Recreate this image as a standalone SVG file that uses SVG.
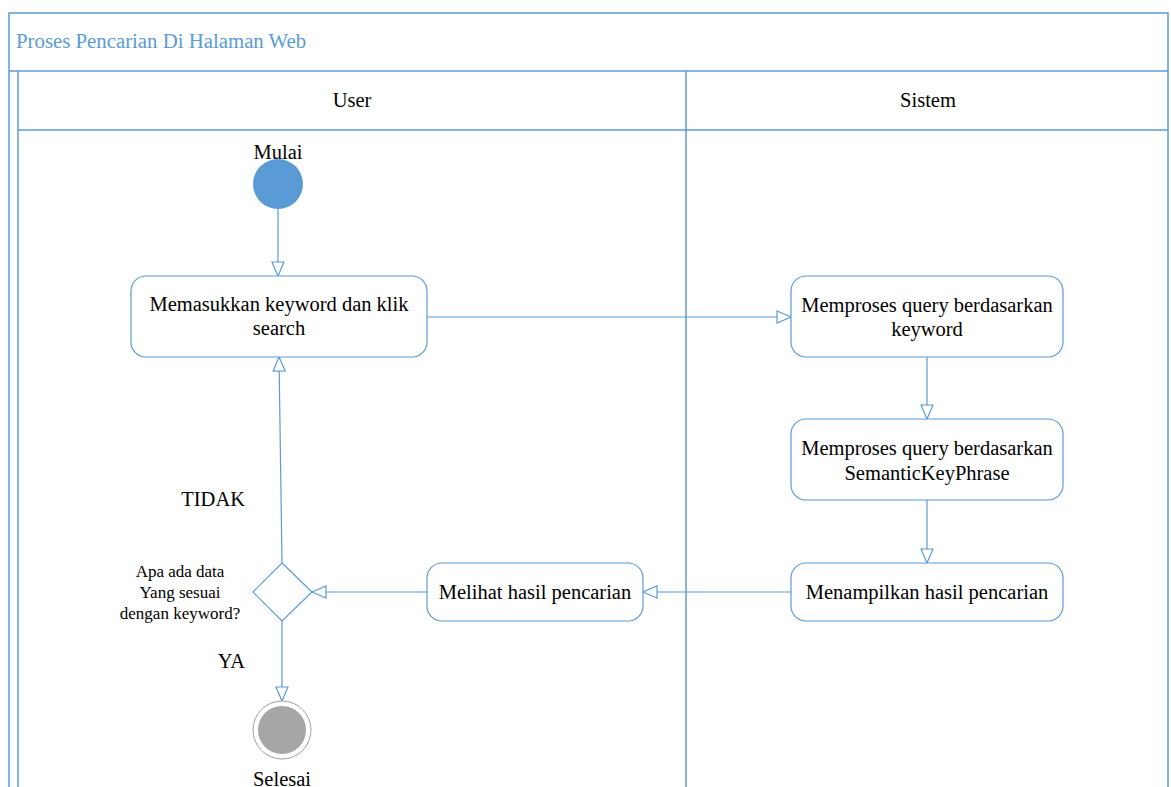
<svg xmlns="http://www.w3.org/2000/svg" width="1171" height="787" viewBox="0 0 1171 787">
<style>
.frame{fill:none;stroke:#5b9bd5;stroke-width:1.5}
.node{fill:#fff;stroke:#5b9bd5;stroke-width:1.2}
.conn{fill:none;stroke:#5b9bd5;stroke-width:1.2}
.t{font-family:'Liberation Serif','Times New Roman',serif;fill:#000;text-anchor:middle}
.t20{font-size:20.5px}
.t17{font-size:17px}
.title{font-family:'Liberation Serif','Times New Roman',serif;font-size:20.8px;fill:#5b9bd5}
</style>
<defs>
<marker id="open" markerUnits="userSpaceOnUse" markerWidth="18" markerHeight="16" refX="15" refY="7" orient="auto">
<path d="M1,1 L15,7 L1,13 Z" fill="#fff" stroke="#5b9bd5" stroke-width="1.2"/>
</marker>
</defs>
<rect x="0" y="0" width="1171" height="787" fill="#fff"/>
<g id="pool">
<rect class="frame" x="9" y="13" width="1159" height="790"/>
<line class="frame" x1="9" y1="71" x2="1168" y2="71"/>
<line class="frame" x1="18" y1="71" x2="18" y2="787"/>
<line class="frame" x1="18" y1="130" x2="1168" y2="130"/>
<line class="frame" x1="686" y1="71" x2="686" y2="787"/>
<text class="title" x="16" y="48">Proses Pencarian Di Halaman Web</text>
<text class="t t20" x="352" y="107">User</text>
<text class="t t20" x="928" y="107">Sistem</text>
</g>
<g id="connectors">
<line class="conn" x1="278" y1="209" x2="278" y2="276" marker-end="url(#open)"/>
<line class="conn" x1="427" y1="317" x2="791" y2="317" marker-end="url(#open)"/>
<line class="conn" x1="927" y1="357" x2="927" y2="419" marker-end="url(#open)"/>
<line class="conn" x1="927" y1="500" x2="927" y2="563" marker-end="url(#open)"/>
<line class="conn" x1="791" y1="592" x2="643" y2="592" marker-end="url(#open)"/>
<line class="conn" x1="427" y1="592" x2="312" y2="592" marker-end="url(#open)"/>
<line class="conn" x1="282" y1="563" x2="279" y2="357" marker-end="url(#open)"/>
<line class="conn" x1="282" y1="621" x2="282" y2="701" marker-end="url(#open)"/>
</g>
<g id="start">
<circle cx="278" cy="184" r="25" fill="#5b9bd5"/>
<text class="t t20" x="278" y="159">Mulai</text>
</g>
<g id="n1">
<rect class="node" x="131" y="276" width="296" height="81" rx="15"/>
<text class="t t20" x="279" y="311">Memasukkan keyword dan klik</text>
<text class="t t20" x="279" y="335">search</text>
</g>
<g id="n2">
<rect class="node" x="791" y="276" width="272" height="81" rx="15"/>
<text class="t t20" x="927" y="312">Memproses query berdasarkan</text>
<text class="t t20" x="927" y="336">keyword</text>
</g>
<g id="n3">
<rect class="node" x="791" y="419" width="272" height="81" rx="15"/>
<text class="t t20" x="927" y="455">Memproses query berdasarkan</text>
<text class="t t20" x="927" y="480">SemanticKeyPhrase</text>
</g>
<g id="n4">
<rect class="node" x="791" y="563" width="272" height="58" rx="15"/>
<text class="t t20" x="927" y="599">Menampilkan hasil pencarian</text>
</g>
<g id="n5">
<rect class="node" x="427" y="563" width="216" height="58" rx="15"/>
<text class="t t20" x="535" y="599">Melihat hasil pencarian</text>
</g>
<g id="decision">
<polygon class="node" points="282,563 312,592 282,621 253,592"/>
<text class="t t17" x="180" y="577">Apa ada data</text>
<text class="t t17" x="180" y="598">Yang sesuai</text>
<text class="t t17" x="180" y="619">dengan keyword?</text>
</g>
<g id="labels">
<text class="t t20" x="245" y="506" style="text-anchor:end">TIDAK</text>
<text class="t t20" x="245" y="668" style="text-anchor:end">YA</text>
</g>
<g id="end">
<circle cx="282" cy="730" r="29" fill="#fff" stroke="#a0a0a0" stroke-width="1"/>
<circle cx="282" cy="730" r="24" fill="#a6a6a6"/>
<text class="t t20" x="282" y="786">Selesai</text>
</g>
</svg>
